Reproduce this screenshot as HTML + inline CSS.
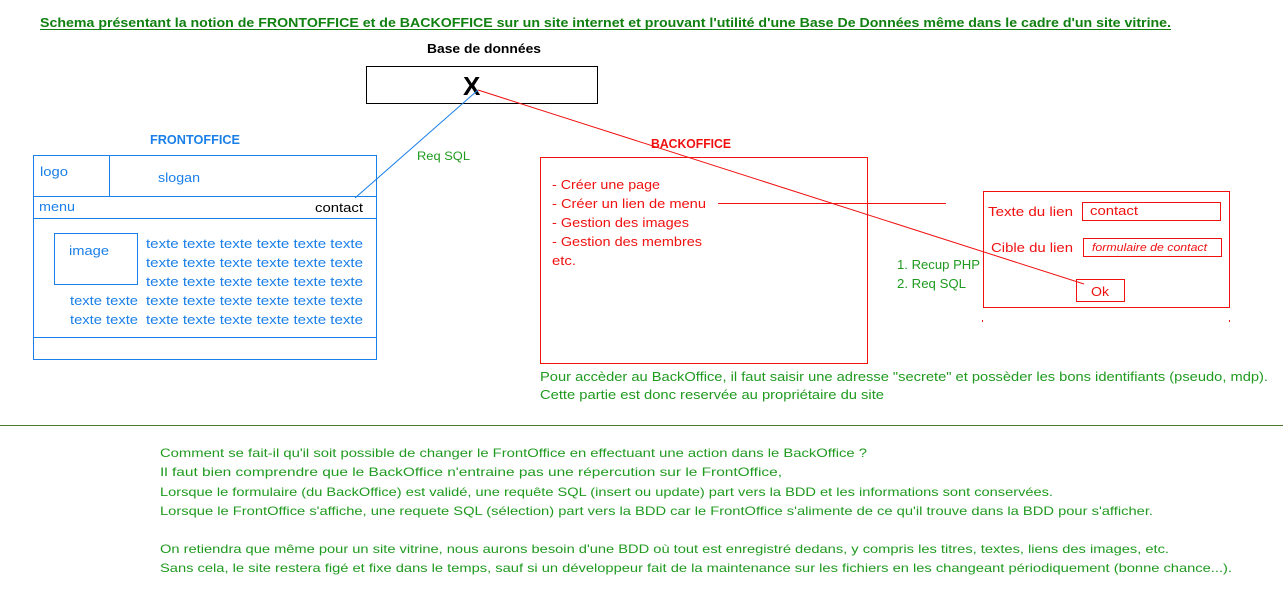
<!DOCTYPE html>
<html><head><meta charset="utf-8"><style>
html,body{margin:0;padding:0;background:#fff;width:1283px;height:596px;overflow:hidden}
svg{display:block}
svg{font-family:"Liberation Sans",sans-serif;font-size:12px}
.g{fill:#1f9a1f}.b{fill:#1a7fe8}.r{fill:#f01010}
</style></head><body>
<svg width="1283" height="596" viewBox="0 0 1283 596" xmlns="http://www.w3.org/2000/svg">
<text x="40" y="27" style="font-weight:bold;font-size:13px;fill:#108010" textLength="1131" lengthAdjust="spacingAndGlyphs">Schema présentant la notion de FRONTOFFICE et de BACKOFFICE sur un site internet et prouvant l'utilité d'une Base De Données même dans le cadre d'un site vitrine.</text>
<line x1="40" y1="29.5" x2="1171" y2="29.5" stroke="#108010" stroke-width="1"/>
<text x="427" y="53" style="font-weight:bold;font-size:13px" textLength="114" lengthAdjust="spacingAndGlyphs">Base de données</text>
<rect x="366.5" y="66.5" width="231" height="37" fill="none" stroke="#000"/>
<text x="463" y="95" style="font-weight:bold;font-size:26px">X</text>

<text x="150" y="144" class="b" style="font-weight:bold;font-size:13px" textLength="90" lengthAdjust="spacingAndGlyphs">FRONTOFFICE</text>
<text x="417" y="160" class="g" textLength="53" lengthAdjust="spacingAndGlyphs">Req SQL</text>
<g fill="none" stroke="#1a7fe8">
<rect x="33.5" y="155.5" width="343" height="204"/>
<line x1="109.5" y1="155" x2="109.5" y2="196"/>
<line x1="33" y1="196.5" x2="376" y2="196.5"/>
<line x1="33" y1="218.5" x2="376" y2="218.5"/>
<line x1="33" y1="337.5" x2="376" y2="337.5"/>
<rect x="54.5" y="233.5" width="83" height="51"/>
</g>
<text x="40" y="176" class="b" style="font-size:13px" textLength="28" lengthAdjust="spacingAndGlyphs">logo</text>
<text x="158" y="182" class="b" style="font-size:13px" textLength="42" lengthAdjust="spacingAndGlyphs">slogan</text>
<text x="39" y="211" class="b" style="font-size:13px" textLength="36" lengthAdjust="spacingAndGlyphs">menu</text>
<text x="315" y="212" style="font-size:13px" textLength="48" lengthAdjust="spacingAndGlyphs">contact</text>
<text x="69" y="255" class="b" style="font-size:13px" textLength="40" lengthAdjust="spacingAndGlyphs">image</text>
<g style="font-size:13px">
<text x="146" y="248" class="b" textLength="217" lengthAdjust="spacingAndGlyphs">texte texte texte texte texte texte</text>
<text x="146" y="267" class="b" textLength="217" lengthAdjust="spacingAndGlyphs">texte texte texte texte texte texte</text>
<text x="146" y="286" class="b" textLength="217" lengthAdjust="spacingAndGlyphs">texte texte texte texte texte texte</text>
<text x="146" y="305" class="b" textLength="217" lengthAdjust="spacingAndGlyphs">texte texte texte texte texte texte</text>
<text x="146" y="324" class="b" textLength="217" lengthAdjust="spacingAndGlyphs">texte texte texte texte texte texte</text>
<text x="70" y="305" class="b" textLength="68" lengthAdjust="spacingAndGlyphs">texte texte</text>
<text x="70" y="324" class="b" textLength="68" lengthAdjust="spacingAndGlyphs">texte texte</text>
</g>

<text x="651" y="148" class="r" style="font-weight:bold;font-size:13px" textLength="80" lengthAdjust="spacingAndGlyphs">BACKOFFICE</text>
<g fill="none" stroke="#f01010">
<rect x="540.5" y="157.5" width="327" height="206"/>
<line x1="718" y1="203.5" x2="946" y2="203.5"/>
<rect x="983.5" y="191.5" width="246" height="116"/>
<rect x="1082.5" y="202.5" width="138" height="18"/>
<rect x="1083.5" y="238.5" width="138" height="18"/>
<rect x="1076.5" y="279.5" width="48" height="22"/>
</g>
<rect x="982" y="320" width="1" height="2" fill="#f01010"/>
<rect x="1229" y="320" width="1" height="2" fill="#f01010"/>
<g style="font-size:13px">
<text x="552" y="189" class="r" textLength="108" lengthAdjust="spacingAndGlyphs">- Créer une page</text>
<text x="552" y="208" class="r" textLength="154" lengthAdjust="spacingAndGlyphs">- Créer un lien de menu</text>
<text x="552" y="227" class="r" textLength="137" lengthAdjust="spacingAndGlyphs">- Gestion des images</text>
<text x="552" y="246" class="r" textLength="150" lengthAdjust="spacingAndGlyphs">- Gestion des membres</text>
<text x="552" y="265" class="r" textLength="24" lengthAdjust="spacingAndGlyphs">etc.</text>
<text x="897" y="269" class="g" textLength="83" lengthAdjust="spacingAndGlyphs">1. Recup PHP</text>
<text x="897" y="288" class="g" textLength="69" lengthAdjust="spacingAndGlyphs">2. Req SQL</text>
<text x="988" y="216" class="r" textLength="85" lengthAdjust="spacingAndGlyphs">Texte du lien</text>
<text x="1090" y="215" class="r" textLength="48" lengthAdjust="spacingAndGlyphs">contact</text>
<text x="991" y="252" class="r" textLength="82" lengthAdjust="spacingAndGlyphs">Cible du lien</text>
<text x="1091" y="296" class="r" textLength="18" lengthAdjust="spacingAndGlyphs">Ok</text>
</g>
<text x="1092" y="251" class="r" style="font-style:italic;font-size:11px" textLength="115" lengthAdjust="spacingAndGlyphs">formulaire de contact</text>

<line x1="478" y1="90" x2="355" y2="198" stroke="#1a7fe8" stroke-width="1"/>
<line x1="478" y1="90" x2="1084" y2="284" stroke="#f01010" stroke-width="1"/>

<text x="540" y="381" class="g" style="font-size:13px" textLength="728" lengthAdjust="spacingAndGlyphs">Pour accèder au BackOffice, il faut saisir une adresse "secrete" et possèder les bons identifiants (pseudo, mdp).</text>
<text x="540" y="399" class="g" style="font-size:13px" textLength="344" lengthAdjust="spacingAndGlyphs">Cette partie est donc reservée au propriétaire du site</text>
<line x1="0" y1="425.5" x2="1283" y2="425.5" stroke="#4a7a2a"/>
<text x="160" y="457" class="g" textLength="707" lengthAdjust="spacingAndGlyphs">Comment se fait-il qu'il soit possible de changer le FrontOffice en effectuant une action dans le BackOffice ?</text>
<text x="160" y="476" class="g" textLength="622" lengthAdjust="spacingAndGlyphs">Il faut bien comprendre que le BackOffice n'entraine pas une répercution sur le FrontOffice,</text>
<text x="160" y="496" class="g" textLength="893" lengthAdjust="spacingAndGlyphs">Lorsque le formulaire (du BackOffice) est validé, une requête SQL (insert ou update) part vers la BDD et les informations sont conservées.</text>
<text x="160" y="515" class="g" textLength="993" lengthAdjust="spacingAndGlyphs">Lorsque le FrontOffice s'affiche, une requete SQL (sélection) part vers la BDD car le FrontOffice s'alimente de ce qu'il trouve dans la BDD pour s'afficher.</text>
<text x="160" y="553" class="g" textLength="1009" lengthAdjust="spacingAndGlyphs">On retiendra que même pour un site vitrine, nous aurons besoin d'une BDD où tout est enregistré dedans, y compris les titres, textes, liens des images, etc.</text>
<text x="160" y="572" class="g" textLength="1072" lengthAdjust="spacingAndGlyphs">Sans cela, le site restera figé et fixe dans le temps, sauf si un développeur fait de la maintenance sur les fichiers en les changeant périodiquement (bonne chance...).</text>
</svg>
</body></html>
